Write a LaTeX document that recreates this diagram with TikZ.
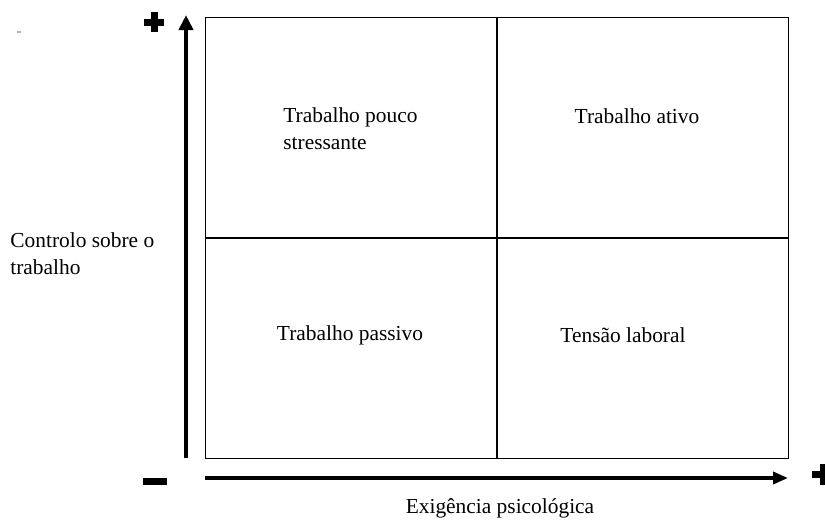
\documentclass[tikz,border=0pt]{standalone}
\usepackage{fontspec}
\setmainfont{Liberation Serif}
\usetikzlibrary{arrows.meta}

\begin{document}
\begin{tikzpicture}[x=0.5pt,y=-0.5pt,
        cell/.style={draw, line width=0.5pt, minimum width=145.5pt, minimum height=110pt,
            inner sep=0pt, anchor=north west},
        txt/.style={font=\fontsize{10.7}{13.5}\selectfont, align=left, inner sep=0pt},
        axis/.style={line width=2pt, -{Triangle[length=7.5pt,width=7pt]}},
        sign/.style={line width=3.5pt},
        ]
        \useasboundingbox (0,0) rectangle (825,520);
        \fill[gray!60] (17,31) rectangle (21,33);

        % quadrants
        \node[cell] (ul) at (205,17) {};
        \node[cell] (ur) at (ul.north east) {};
        \node[cell] (ll) at (ul.south west) {};
        \node[cell] (lr) at (ul.south east) {};

        \node[txt, anchor=west] (lowstress) at (283,129) {Trabalho pouco\\stressante};
        \node[txt] (active) at (637,116) {Trabalho ativo};
        \node[txt] (passive) at (350,335) {Trabalho passivo};
        \node[txt] (strain) at (623,335) {Tensão laboral};

        % axes
        \coordinate (yfrom) at (186,458);
        \coordinate (yto) at (186,15);
        \coordinate (xfrom) at (205,478);
        \coordinate (xto) at (788,478);
        \draw[axis] (yfrom) -- (yto);
        \draw[axis, line width=1.7pt, -{Triangle[length=7.5pt,width=6pt]}] (xfrom) -- (xto);

        \node[txt, anchor=west] (control) at (10,254) {Controlo sobre o\\trabalho};
        \node[txt] (demand) at (500,508) {Exigência psicológica};

        % signs
        \draw[sign] (144,22) -- (164,22) (154,12) -- (154,32);
        \draw[sign] (143,481.5) -- (167,481.5);
        \draw[sign] (812,474) -- (834,474) (823,464) -- (823,485);
    \end{tikzpicture}
\end{document}
